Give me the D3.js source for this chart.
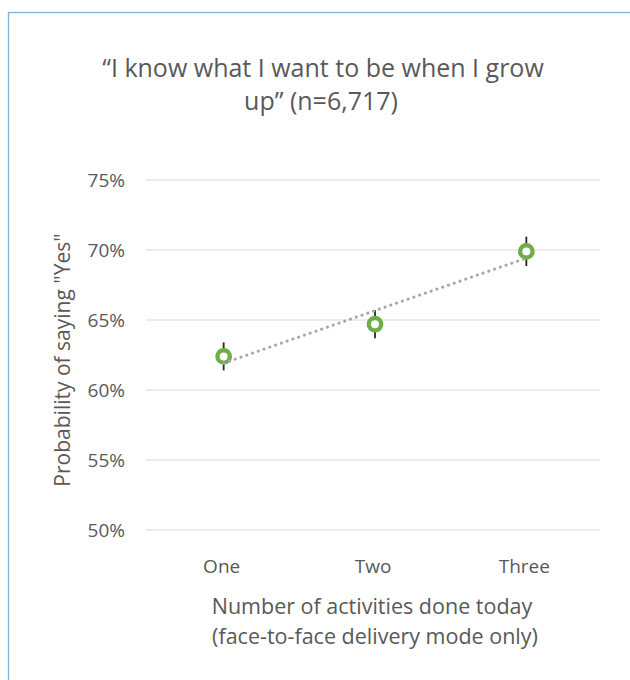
<!DOCTYPE html>
<html>
<head>
<meta charset="utf-8">
<script src="https://cdn.jsdelivr.net/npm/d3@7"></script>
<style>
  body { margin: 0; background: #fff; }
  svg text { font-family: "Open Sans", sans-serif; fill: #595959; }
  .grid line { stroke: #d9d9d9; stroke-width: 1; }
</style>
</head>
<body>
<svg width="630" height="680"></svg>
<script>
// chart values
var categories = ["One", "Two", "Three"];
var probability = [62.4, 64.7, 69.9];
var errorMargin = [1.0, 1.0, 1.05];
var yTicks = [50, 55, 60, 65, 70, 75];

var svg = d3.select("svg");

// outer chart border (only top + left visible in frame)
svg.append("rect")
	.attr("x", 8.5).attr("y", 12.5)
	.attr("width", 700).attr("height", 700)
	.attr("fill", "none")
	.attr("stroke", "#7fb2d6")
	.attr("stroke-width", 1.3);

var plotLeft = 146, plotRight = 600, plotTop = 180, plotBottom = 530;

var x = d3.scaleBand().domain(categories).range([plotLeft, plotRight]);
var y = d3.scaleLinear().domain([50, 75]).range([plotBottom, plotTop]);

// gridlines
svg.append("g").attr("class", "grid")
	.selectAll("line")
	.data(yTicks)
	.enter()
	.append("line")
	.attr("x1", plotLeft).attr("x2", plotRight)
	.attr("y1", function(d) { return y(d); })
	.attr("y2", function(d) { return y(d); });

// y tick labels
svg.append("g")
	.selectAll("text")
	.data(yTicks)
	.enter()
	.append("text")
	.attr("x", 125)
	.attr("y", function(d) { return y(d); })
	.attr("dy", "0.35em")
	.attr("text-anchor", "end")
	.style("font-size", "19px")
	.text(function(d) { return d + "%"; });

// x tick labels
svg.append("g")
	.selectAll("text")
	.data(categories)
	.enter()
	.append("text")
	.attr("x", function(d) { return x(d) + x.bandwidth() / 2; })
	.attr("y", 573)
	.attr("text-anchor", "middle")
	.style("font-size", "19px")
	.text(function(d) { return d; });

function cx(i) { return x(categories[i]) + x.bandwidth() / 2 + 2; }

// error bars
svg.append("g")
	.selectAll("line")
	.data(probability)
	.enter()
	.append("line")
	.attr("x1", function(d, i) { return cx(i); })
	.attr("x2", function(d, i) { return cx(i); })
	.attr("y1", function(d, i) { return y(d - errorMargin[i]); })
	.attr("y2", function(d, i) { return y(d + errorMargin[i]); })
	.attr("stroke", "#262626")
	.attr("stroke-width", 1.8);

// markers
svg.append("g")
	.selectAll("circle")
	.data(probability)
	.enter()
	.append("circle")
	.attr("cx", function(d, i) { return cx(i); })
	.attr("cy", function(d) { return y(d); })
	.attr("r", 6.2)
	.attr("fill", "#fff")
	.attr("stroke", "#70ad47")
	.attr("stroke-width", 4.4);

// linear trend line (least squares over category index)
var n = probability.length;
var mx = d3.mean(d3.range(n));
var my = d3.mean(probability);
var slope = d3.sum(probability, function(d, i) { return (i - mx) * (d - my); }) /
	d3.sum(d3.range(n), function(i) { return (i - mx) * (i - mx); });
var trend = d3.range(n).map(function(i) { return [cx(i), y(my + slope * (i - mx))]; });

svg.append("path")
	.attr("d", d3.line()([trend[0], trend[n - 1]]))
	.attr("fill", "none")
	.attr("stroke", "#a6a6a6")
	.attr("stroke-width", 3)
	.attr("stroke-linecap", "round")
	.attr("stroke-dasharray", "0.1 6");

// title
var title = svg.append("text")
	.attr("text-anchor", "middle")
	.style("font-size", "25px");
title.append("tspan").attr("x", 323).attr("y", 77).text("“I know what I want to be when I grow");
title.append("tspan").attr("x", 321).attr("y", 110).text("up” (n=6,717)");

// axis titles
svg.append("text")
	.attr("transform", "translate(70,360) rotate(-90)")
	.attr("text-anchor", "middle")
	.style("font-size", "21px")
	.text("Probability of saying \"Yes\"");

var xt = svg.append("text")
	.attr("text-anchor", "middle")
	.style("font-size", "21.5px");
xt.append("tspan").attr("x", 372).attr("y", 614).text("Number of activities done today");
xt.append("tspan").attr("x", 375).attr("y", 644).text("(face-to-face delivery mode only)");
</script>
</body>
</html>
